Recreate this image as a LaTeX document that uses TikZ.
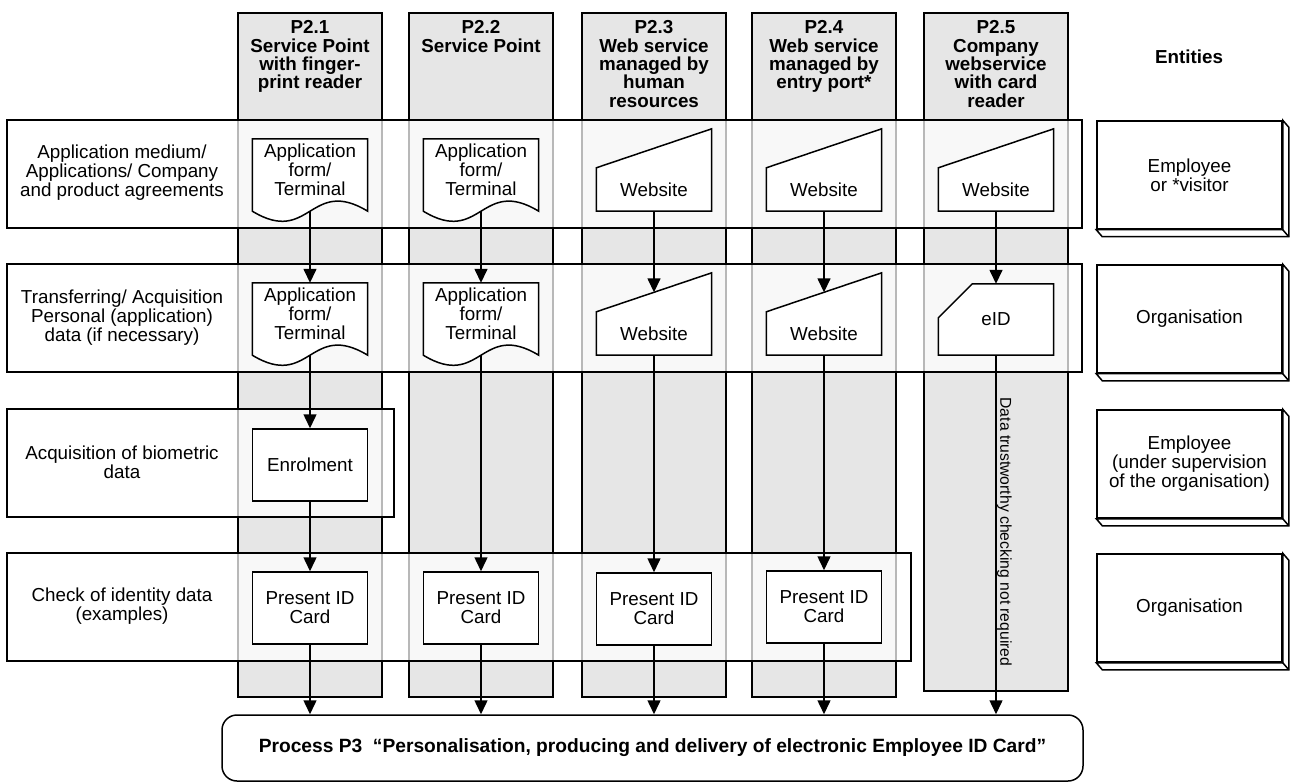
\documentclass[tikz,border=0pt]{standalone}
\usepackage{fontspec}
\setmainfont{Liberation Sans}
\usetikzlibrary{arrows.meta,calc}
\pgfdeclarelayer{columns}
\pgfdeclarelayer{bands}
\pgfdeclarelayer{outlines}
\pgfsetlayers{columns,bands,outlines,main}
\definecolor{lanegray}{RGB}{230,230,230}

% outline of a document shape (wavy lower edge) around a node
\newcommand\docoutline[1]{%
  \draw[outline] (#1.north west) -- ($(#1.south west)+(0,10)$)
    .. controls ($(#1.south)+(0,45)$) and ($(#1.south)+(0,-25)$) .. ($(#1.south east)+(0,10)$)
    -- (#1.north east) -- cycle;}
% outline of a manual input shape (raised upper right corner) around a node
\newcommand\weboutline[1]{%
  \draw[outline] (#1.south west) -- (#1.north west) -- ($(#1.north east)+(0,-39)$)
    -- (#1.south east) -- cycle;
  \coordinate (#1-in) at ($(#1.north)+(0,-19.5)$);}
% outline of a card shape (cut upper left corner) around a node
\newcommand\cardoutline[1]{%
  \draw[outline] ($(#1.north west)+(34,0)$) -- (#1.north east) -- (#1.south east)
    -- (#1.south west) -- ($(#1.north west)+(0,34)$) -- cycle;}
% slab under and beside an entity box
\newcommand\entityslab[1]{%
  \draw[outline] (#1.south west) -- ++(6,7) -- ($(#1.south east)+(6,7)$)
    -- ($(#1.north east)+(6,7)$) -- (#1.north east) -- (#1.south east) -- cycle;
  \draw[line width=1.5pt] (#1.south east) -- ++(6,7);}

\begin{document}
\begin{tikzpicture}[x=1pt,y=-1pt,
  every node/.style={font=\fontsize{18.8}{19}\selectfont, inner sep=0pt, align=center},
  lane/.style={draw, line width=1.5pt, fill=lanegray, minimum width=144pt},
  head/.style={font=\fontsize{18.8}{18.3}\selectfont\bfseries, anchor=north},
  outline/.style={draw, line width=1.5pt, fill=white, line join=miter},
  holder/.style={minimum width=115pt},
  procbox/.style={draw, line width=1.5pt, fill=white, minimum width=115pt, minimum height=72pt},
  entity/.style={draw, line width=1.5pt, fill=white, minimum width=185pt, minimum height=108pt},
  flow/.style={line width=1.5pt, -{Triangle[width=13pt,length=14pt]}},
  band/.style={line width=1.5pt}
]
\useasboundingbox (0,0) rectangle (1290,783);

% process columns
\begin{pgfonlayer}{columns}
  \node[lane, minimum height=684pt] (c1) at (310,355) {};
  \node[lane, minimum height=684pt] (c2) at (481,355) {};
  \node[lane, minimum height=684pt] (c3) at (654,355) {};
  \node[lane, minimum height=684pt] (c4) at (824,355) {};
  \node[lane, minimum height=678pt] (c5) at (996,352) {};
\end{pgfonlayer}

% column headers
\node[head] (h1) at ([yshift=-8.4pt]c1.north) {P2.1\\Service Point\\with finger-\\print reader};
\node[head] (h2) at ([yshift=-8.4pt]c2.north) {P2.2\\Service Point};
\node[head] (h3) at ([yshift=-8.4pt]c3.north) {P2.3\\Web service\\managed by\\human\\resources};
\node[head] (h4) at ([yshift=-8.4pt]c4.north) {P2.4\\Web service\\managed by\\entry port*};
\node[head] (h5) at ([yshift=-8.4pt]c5.north) {P2.5\\Company\\webservice\\with card\\reader};
\node[font=\fontsize{18.8}{19}\selectfont\bfseries] (ent) at (1189,57) {Entities};

% step bands
\begin{pgfonlayer}{bands}
  \fill[white, opacity=0.72] (7,120) rectangle (1082,228);
  \fill[white, opacity=0.72] (7,264) rectangle (1082,372);
  \fill[white, opacity=0.72] (7,409) rectangle (394,517);
  \fill[white, opacity=0.72] (7,553) rectangle (911,661);
  \draw[band] (7,120) rectangle (1082,228);
  \draw[band] (7,264) rectangle (1082,372);
  \draw[band] (7,409) rectangle (394,517);
  \draw[band] (7,553) rectangle (911,661);
\end{pgfonlayer}

% step labels
\node (l1) at (122,173) {Application medium/\\Applications/ Company\\and product agreements};
\node (l2) at (122,318) {Transferring/ Acquisition\\Personal (application)\\data (if necessary)};
\node (l3) at (122,462) {Acquisition of biometric\\data};
\node (l4) at (122,606) {Check of identity data\\(examples)};

% row 1
\node[holder, minimum height=62pt] (d11) at (310,170) {Application\\form/\\Terminal};
\node[holder, minimum height=62pt] (d12) at (481,170) {Application\\form/\\Terminal};
\node[holder, minimum height=43pt] (w13) at (654,189.5) {Website};
\node[holder, minimum height=43pt] (w14) at (824,189.5) {Website};
\node[holder, minimum height=43pt] (w15) at (996,189.5) {Website};
% row 2
\node[holder, minimum height=62pt] (d21) at (310,314) {Application\\form/\\Terminal};
\node[holder, minimum height=62pt] (d22) at (481,314) {Application\\form/\\Terminal};
\node[holder, minimum height=43pt] (w23) at (654,333.5) {Website};
\node[holder, minimum height=43pt] (w24) at (824,333.5) {Website};
\node[holder, minimum height=71pt] (e25) at (996,319.5) {eID};

\begin{pgfonlayer}{outlines}
  \docoutline{d11} \docoutline{d12}
  \weboutline{w13} \weboutline{w14} \weboutline{w15}
  \docoutline{d21} \docoutline{d22}
  \weboutline{w23} \weboutline{w24}
  \cardoutline{e25}
\end{pgfonlayer}

% row 3 and row 4
\node[procbox] (n31) at (310,465) {Enrolment};
\node[procbox] (p41) at (310,608) {Present ID\\Card};
\node[procbox] (p42) at (481,608) {Present ID\\Card};
\node[procbox] (p43) at (654,609) {Present ID\\Card};
\node[procbox] (p44) at (824,607) {Present ID\\Card};

% next process
\node[draw, line width=1.5pt, rounded corners=15pt, minimum width=861pt, minimum height=66pt,
      font=\fontsize{19.2}{19}\selectfont\bfseries] (p3) at (652.5,748)
  {Process P3~~“Personalisation, producing and delivery of electronic Employee ID Card”};

% entities
\node[entity] (en1) at (1189.5,175) {Employee\\or *visitor};
\node[entity] (en2) at (1189.5,319) {Organisation};
\node[entity] (en3) at (1189.5,464) {Employee\\(under supervision\\of the organisation)};
\node[entity] (en4) at (1189.5,608) {Organisation};
\entityslab{en1} \entityslab{en2} \entityslab{en3} \entityslab{en4}

% flows
\draw[flow] ([yshift=-10pt]d11.south) -- (d21.north);
\draw[flow] ([yshift=-10pt]d21.south) -- (n31.north);
\draw[flow] (n31.south) -- (p41.north);
\draw[flow] (p41.south) -- (p41.south |- p3.north);

\draw[flow] ([yshift=-10pt]d12.south) -- (d22.north);
\draw[flow] ([yshift=-10pt]d22.south) -- (p42.north);
\draw[flow] (p42.south) -- (p42.south |- p3.north);

\draw[flow] (w13.south) -- (w23-in);
\draw[flow] (w23.south) -- (p43.north);
\draw[flow] (p43.south) -- (p43.south |- p3.north);

\draw[flow] (w14.south) -- (w24-in);
\draw[flow] (w24.south) -- (p44.north);
\draw[flow] (p44.south) -- (p44.south |- p3.north);

\draw[flow] (w15.south) -- (e25.north);
\draw[flow] (e25.south) -- (e25.south |- p3.north);
\node[rotate=-90, anchor=south, font=\fontsize{15.7}{16}\selectfont] (skip) at (997,532)
  {Data trustworthy checking not required};
\end{tikzpicture}
\end{document}
